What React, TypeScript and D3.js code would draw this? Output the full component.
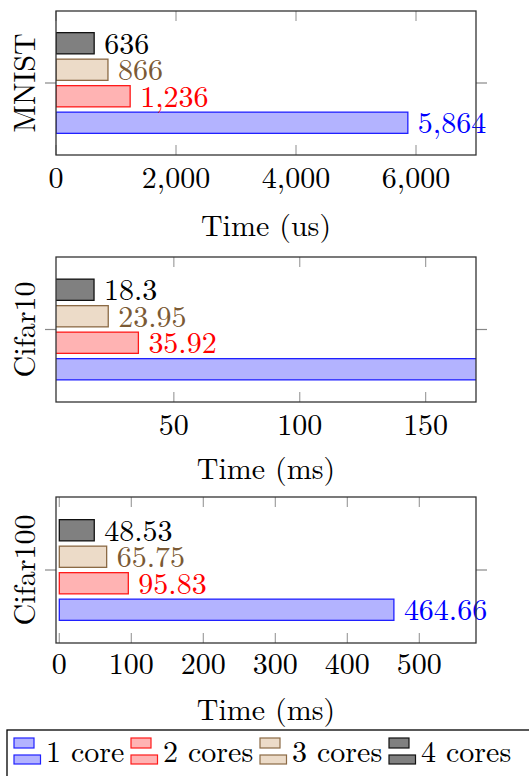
import React from "react";
import * as d3 from "d3";

const DATASETS = ["MNIST", "Cifar10", "Cifar100"];
const SERIES = ["1 core", "2 cores", "3 cores", "4 cores"];
const MNIST_TIMES = [5864, 1236, 866, 636];
const CIFAR10_TIMES = [172, 35.92, 23.95, 18.3];
const CIFAR100_TIMES = [464.66, 95.83, 65.75, 48.53];
const MNIST_TICKS = [0, 2000, 4000, 6000];
const CIFAR10_TICKS = [50, 100, 150];
const CIFAR100_TICKS = [0, 100, 200, 300, 400, 500];
const X_LABELS = ["Time (us)", "Time (ms)", "Time (ms)"];
const X_DOMAINS: [number, number][] = [
  [0, 7000],
  [3.2, 170],
  [-4.6, 578.7],
];

const COLORS: Record<string, { fill: string; stroke: string; text: string }> = {
  "1 core": { fill: "#b3b3ff", stroke: "#2020ff", text: "#0000ff" },
  "2 cores": { fill: "#ffb3b3", stroke: "#ff1a1a", text: "#ff0000" },
  "3 cores": { fill: "#ecdbc8", stroke: "#8b6a45", text: "#7b5a35" },
  "4 cores": { fill: "#808080", stroke: "#111111", text: "#000000" },
};

const W = 529;
const H = 776;
const FONT = "'Latin Modern Roman', 'Liberation Serif', serif";
const FS = 30;
const LEFT = 56;
const RIGHT = 476;

// layout per panel (box top/bottom, tick label and axis title baselines)
const PANELS = [
  { top: 11, bottom: 155, tickBase: 188, titleBase: 236 },
  { top: 257, bottom: 402, tickBase: 435, titleBase: 479 },
  { top: 497, bottom: 643, tickBase: 674, titleBase: 720 },
];

const LEGEND_X = [14, 131, 260, 389];

function Panel({ idx, values, ticks, fmt }: { idx: number; values: number[]; ticks: number[]; fmt: (v: number) => string }) {
  const p = PANELS[idx];
  const [x0, x1] = X_DOMAINS[idx];
  const x = d3.scaleLinear().domain([x0, x1]).range([LEFT, RIGHT]);
  const center = (p.top + p.bottom) / 2;
  const y = d3
    .scaleBand()
    .domain([...SERIES].reverse())
    .range([center - 53, center + 53])
    .paddingInner(0.2)
    .paddingOuter(0.1);
  const clipId = `clip-${idx}`;

  return (
    <g>
      <defs>
        <clipPath id={clipId}>
          <rect x={LEFT} y={p.top} width={RIGHT - LEFT} height={p.bottom - p.top} />
        </clipPath>
      </defs>
      {/* x ticks inside the box */}
      {ticks.map((t) => (
        <g key={t} stroke="#a0a0a0" strokeWidth={1.2}>
          <line x1={x(t)} x2={x(t)} y1={p.top} y2={p.top + 10} />
          <line x1={x(t)} x2={x(t)} y1={p.bottom} y2={p.bottom - 10} />
        </g>
      ))}
      {/* y ticks outside */}
      <g stroke="#888" strokeWidth={1.2}>
        <line x1={LEFT - 11} x2={LEFT} y1={center} y2={center} />
        <line x1={RIGHT} x2={RIGHT + 11} y1={center} y2={center} />
      </g>
      <g clipPath={`url(#${clipId})`}>
        {SERIES.map((s, i) => (
          <rect
            key={s}
            x={x(0)}
            y={y(s)}
            width={x(values[i]) - x(0)}
            height={y.bandwidth()}
            fill={COLORS[s].fill}
            stroke={COLORS[s].stroke}
            strokeWidth={1.3}
          />
        ))}
      </g>
      {SERIES.map((s, i) =>
        values[i] > x1 ? null : (
          <text
            key={s}
            x={x(values[i]) + 10}
            y={(y(s) || 0) + y.bandwidth() / 2}
            dy="0.35em"
            fill={COLORS[s].text}
            fontSize={FS}
            fontFamily={FONT}
          >
            {fmt(values[i])}
          </text>
        )
      )}
      <rect
        x={LEFT}
        y={p.top}
        width={RIGHT - LEFT}
        height={p.bottom - p.top}
        fill="none"
        stroke="#333"
        strokeWidth={1.3}
      />
      {ticks.map((t) => (
        <text
          key={t}
          x={x(t)}
          y={p.tickBase}
          textAnchor="middle"
          fontSize={FS}
          fontFamily={FONT}
          fill="#000"
        >
          {fmt(t)}
        </text>
      ))}
      <text
        x={(LEFT + RIGHT) / 2}
        y={p.titleBase}
        textAnchor="middle"
        fontSize={FS}
        fontFamily={FONT}
        fill="#000"
      >
        {X_LABELS[idx]}
      </text>
      <text
        transform={`translate(35, ${center}) rotate(-90)`}
        textAnchor="middle"
        fontSize={FS}
        fontFamily={FONT}
        fill="#000"
      >
        {DATASETS[idx]}
      </text>
    </g>
  );
}

export default function App() {
  const comma = d3.format(",");
  const plain = (v: number) => String(v);
  return (
    <svg
      width={W}
      height={H}
      style={{ position: "absolute", left: 0, top: 0, background: "#fff" }}
    >
      <rect width={W} height={H} fill="#fff" />
      <Panel idx={0} values={MNIST_TIMES} ticks={MNIST_TICKS} fmt={comma} />
      <Panel idx={1} values={CIFAR10_TIMES} ticks={CIFAR10_TICKS} fmt={plain} />
      <Panel idx={2} values={CIFAR100_TIMES} ticks={CIFAR100_TICKS} fmt={plain} />
      {/* legend */}
      <rect x={7} y={730} width={540} height={60} fill="#fff" stroke="#000" strokeWidth={1.3} />
      {SERIES.map((s, i) => (
        <g key={s} transform={`translate(${LEGEND_X[i]}, 0)`}>
          <rect x={0} y={738} width={20} height={10} fill={COLORS[s].fill} stroke={COLORS[s].stroke} strokeWidth={1.2} />
          <rect x={0} y={755} width={26.5} height={9} fill={COLORS[s].fill} stroke={COLORS[s].stroke} strokeWidth={1.2} />
          <text x={32} y={762} fontSize={FS} fontFamily={FONT} fill="#000">
            {s}
          </text>
        </g>
      ))}
    </svg>
  );
}
